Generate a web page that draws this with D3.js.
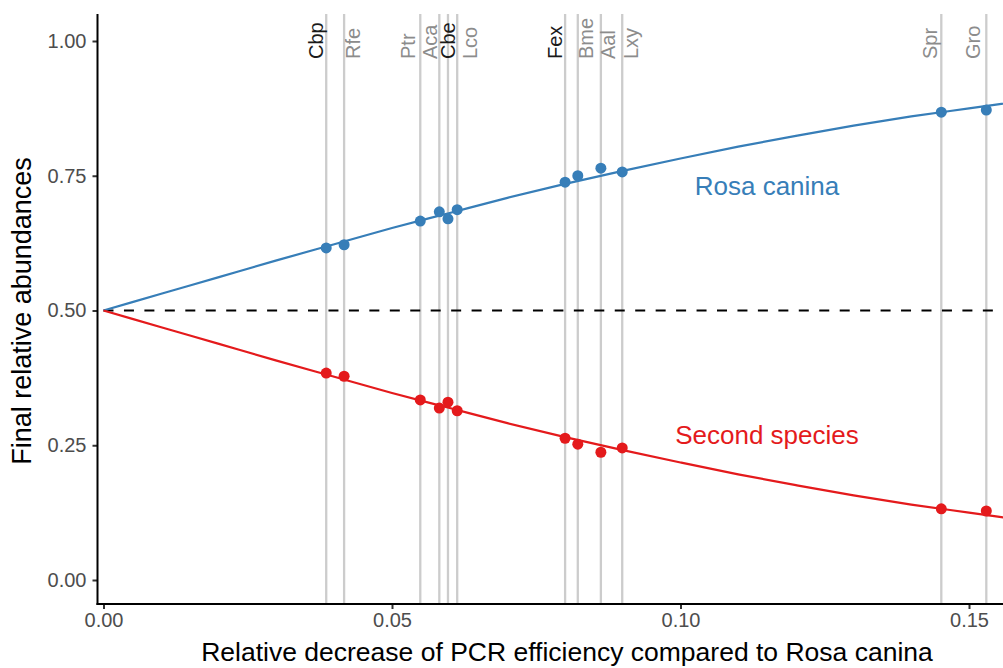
<!DOCTYPE html>
<html><head><meta charset="utf-8">
<script src="https://cdn.jsdelivr.net/npm/d3@7"></script>
<style>body{margin:0;background:#fff}svg{display:block;font-family:"Liberation Sans",Arial,sans-serif}</style>
</head><body><svg id="c" width="1003" height="668"></svg>
<script>
const species = ["Cbp","Rfe","Ptr","Aca","Cbe","Lco","Fex","Bme","Aal","Lxy","Spr","Gro"];
const decrease = [0.0386,0.0417,0.0549,0.0582,0.0597,0.0613,0.0800,0.0822,0.0862,0.0899,0.1452,0.1530];
// repelled label positions (x in data units, text baseline)
const labelX = [0.0380,0.0445,0.0540,0.0578,0.0609,0.0647,0.0795,0.0848,0.0887,0.0926,0.1445,0.1519];
const highlighted = ["Cbp","Cbe","Fex"];
const rosaObs = [0.616,0.622,0.666,0.683,0.670,0.687,0.738,0.750,0.764,0.757,0.868,0.872];
const secondObs = [0.384,0.378,0.334,0.319,0.330,0.314,0.263,0.252,0.237,0.245,0.132,0.128];
const curveX = [0,0.01,0.02,0.03,0.04,0.05,0.06,0.07,0.08,0.09,0.10,0.11,0.12,0.13,0.14,0.15,0.16];
const rosaCurve = [0.500,0.531,0.562,0.593,0.623,0.653,0.681,0.709,0.735,0.759,0.782,0.804,0.824,0.843,0.860,0.875,0.890];
const secondCurve = [0.500,0.469,0.438,0.407,0.377,0.347,0.319,0.291,0.265,0.241,0.218,0.196,0.176,0.157,0.140,0.125,0.110];
const xTicks = [0,0.05,0.10,0.15];
const yTicks = [0,0.25,0.5,0.75,1.0];

const svg = d3.select("#c");
const L = 97.5, R = 1003, T = 14, B = 604;
const x = d3.scaleLinear().domain([0,0.05]).range([103.5,392]);
const y = d3.scaleLinear().domain([0,1]).range([580,41]);
const blue = "#377EB8", red = "#E41A1C";

svg.append("clipPath").attr("id","clip").append("rect").attr("x",L).attr("y",T).attr("width",R-L).attr("height",B-T);
const g = svg.append("g").attr("clip-path","url(#clip)");

g.selectAll("line.v").data(decrease).join("line")
  .attr("x1",d=>x(d)).attr("x2",d=>x(d)).attr("y1",T).attr("y2",B)
  .attr("stroke","#cccccc").attr("stroke-width",2.3);

g.selectAll("text.lab").data(species).join("text")
  .attr("transform",(d,i)=>`translate(${x(labelX[i])},59) rotate(-90)`)
  .attr("text-anchor","start")
  .attr("font-size",20)
  .attr("fill",d=>highlighted.includes(d)?"#1a1a1a":"#8c8c8c")
  .text(d=>d);

g.append("line").attr("x1",x(0)).attr("x2",993).attr("y1",y(0.5)).attr("y2",y(0.5))
  .attr("stroke","#000").attr("stroke-width",2).attr("stroke-dasharray","10,10.45");

const line = d3.line().x((d,i)=>x(curveX[i])).y(d=>y(d)).curve(d3.curveMonotoneX);
g.append("path").attr("d",line(rosaCurve)).attr("fill","none").attr("stroke",blue).attr("stroke-width",2.2);
g.append("path").attr("d",line(secondCurve)).attr("fill","none").attr("stroke",red).attr("stroke-width",2.2);

g.selectAll("circle.b").data(rosaObs).join("circle").attr("cx",(d,i)=>x(decrease[i])).attr("cy",d=>y(d)).attr("r",5.5).attr("fill",blue);
g.selectAll("circle.r").data(secondObs).join("circle").attr("cx",(d,i)=>x(decrease[i])).attr("cy",d=>y(d)).attr("r",5.5).attr("fill",red);

g.append("text").attr("x",767).attr("y",195).attr("text-anchor","middle").attr("font-size",26).attr("fill",blue).text("Rosa canina");
g.append("text").attr("x",767).attr("y",444).attr("text-anchor","middle").attr("font-size",26).attr("fill",red).text("Second species");

const xa = svg.append("g").attr("transform",`translate(0,${B})`)
  .call(d3.axisBottom(x).tickValues(xTicks).tickFormat(d3.format(".2f")).tickSize(5).tickPadding(4));
const ya = svg.append("g").attr("transform",`translate(${L},0)`)
  .call(d3.axisLeft(y).tickValues(yTicks).tickFormat(d3.format(".2f")).tickSize(5).tickPadding(6));
[xa,ya].forEach(a=>{
  a.select(".domain").remove();
  a.attr("font-size",20).attr("font-family","Liberation Sans, Arial, sans-serif");
  a.selectAll(".tick line").attr("stroke","#333").attr("stroke-width",2);
  a.selectAll(".tick text").attr("fill","#4d4d4d");
});
svg.append("line").attr("x1",L).attr("x2",L).attr("y1",T).attr("y2",B+1).attr("stroke","#000").attr("stroke-width",2);
svg.append("line").attr("x1",L-1).attr("x2",R).attr("y1",B).attr("y2",B).attr("stroke","#000").attr("stroke-width",2);

svg.append("text").attr("transform","translate(31,311) rotate(-90)").attr("text-anchor","middle").attr("font-size",27).attr("fill","#000").text("Final relative abundances");
svg.append("text").attr("x",567).attr("y",661).attr("text-anchor","middle").attr("font-size",26.5).attr("fill","#000").text("Relative decrease of PCR efficiency compared to Rosa canina");
</script></body></html>
